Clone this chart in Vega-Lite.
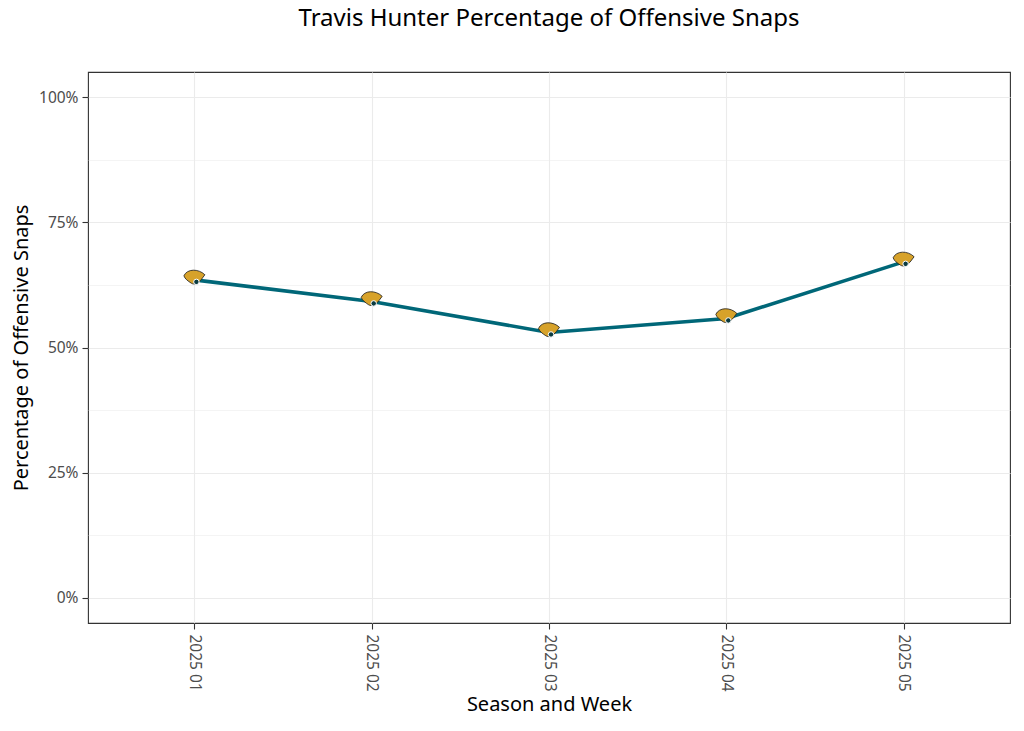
{
  "$schema": "https://vega.github.io/schema/vega-lite/v6.json",
  "width": 922,
  "height": 551,
  "autosize": {"type": "none"},
  "padding": {"left": 88, "top": 72, "right": 14, "bottom": 108},
  "background": "white",
  "title": {
    "text": "Travis Hunter Percentage of Offensive Snaps",
    "font": "Noto Sans",
    "fontSize": 24,
    "fontWeight": "normal",
    "color": "#000000",
    "anchor": "middle",
    "offset": 41
  },
  "config": {
    "view": {"stroke": "#333333", "strokeWidth": 1.1},
    "font": "Noto Sans"
  },
  "data": {
    "values": [
      {"week": "2025 01", "pct": 0.635},
      {"week": "2025 02", "pct": 0.592},
      {"week": "2025 03", "pct": 0.530},
      {"week": "2025 04", "pct": 0.558},
      {"week": "2025 05", "pct": 0.671}
    ]
  },
  "encoding": {
    "x": {
      "field": "week",
      "type": "ordinal",
      "scale": {"type": "point", "padding": 0.6},
      "axis": {
        "title": "Season and Week",
        "titleFont": "Noto Sans",
        "titleFontSize": 20,
        "titleFontWeight": "normal",
        "titleColor": "#000000",
        "titlePadding": 3,
        "labelAngle": 90,
        "labelAlign": "left",
        "labelBaseline": "middle",
        "labelFont": "Noto Sans",
        "labelFontSize": 15.5,
        "labelColor": "#4D4D4D",
        "labelPadding": 5,
        "tickColor": "#333333",
        "tickSize": 6,
        "tickWidth": 1.1,
        "domain": false,
        "grid": true,
        "gridColor": "#EBEBEB",
        "gridWidth": 1.1
      }
    },
    "y": {
      "field": "pct",
      "type": "quantitative",
      "scale": {"domain": [-0.05, 1.05], "nice": false, "zero": false},
      "axis": {
        "title": "Percentage of Offensive Snaps",
        "titleFont": "Noto Sans",
        "titleFontSize": 20,
        "titleFontWeight": "normal",
        "titleColor": "#000000",
        "titlePadding": 7,
        "values": [0, 0.125, 0.25, 0.375, 0.5, 0.625, 0.75, 0.875, 1],
        "labelExpr": "(datum.value * 100) % 25 == 0 ? format(datum.value, '.0%') : ''",
        "labelFont": "Noto Sans",
        "labelFontSize": 15.5,
        "labelColor": "#4D4D4D",
        "labelPadding": 4,
        "tickColor": "#333333",
        "tickSize": 6,
        "tickWidth": 1.1,
        "tickOpacity": {"condition": {"test": "(datum.value * 100) % 25 == 0", "value": 1}, "value": 0},
        "domain": false,
        "grid": true,
        "gridColor": "#EBEBEB",
        "gridWidth": {"condition": {"test": "(datum.value * 100) % 25 == 0", "value": 1.1}, "value": 0.55}
      }
    }
  },
  "layer": [
    {
      "mark": {"type": "line", "color": "#006778", "strokeWidth": 3.6}
    },
    {
      "mark": {
        "type": "point",
        "shape": "M -1 -0.1 C -0.7 -0.8 0.4 -0.8 1 -0.2 L 0.7 0.2 C 0.4 0.6 0 0.8 -0.3 0.6 C -0.6 0.4 -0.9 0.2 -1 -0.1 Z",
        "filled": true,
        "fill": "#D7A22A",
        "stroke": "#1a1a1a",
        "strokeWidth": 0.8,
        "size": 440,
        "opacity": 1,
        "yOffset": -3
      }
    },
    {
      "mark": {
        "type": "point",
        "shape": "circle",
        "filled": true,
        "fill": "#0B3B40",
        "stroke": "white",
        "strokeWidth": 1,
        "size": 30,
        "opacity": 1,
        "xOffset": 2,
        "yOffset": 2
      }
    }
  ]
}
